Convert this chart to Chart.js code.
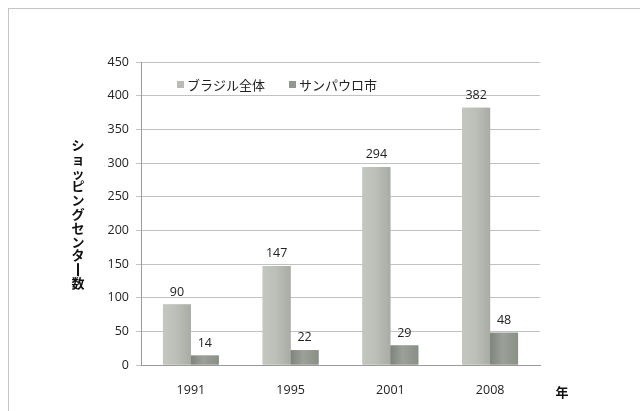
<!DOCTYPE html>
<html>
<head>
<meta charset="utf-8">
<script src="https://cdn.jsdelivr.net/npm/chart.js@4/dist/chart.umd.min.js"></script>
<style>
  html, body { margin: 0; padding: 0; background: #fff; }
  #wrap { position: relative; width: 640px; height: 411px; overflow: hidden; }
  #frame { position: absolute; left: 8px; top: 8px; width: 700px; height: 500px; border: 1px solid #c4c4c4; }
  canvas { position: absolute; left: 0; top: 0; }
</style>
</head>
<body>
<div id="wrap">
  <div id="frame"></div>
  <canvas id="c" width="640" height="411"></canvas>
</div>
<script>
const years = ["1991", "1995", "2001", "2008"];
const brazilTotal = [90, 147, 294, 382];
const saoPaulo = [14, 22, 29, 48];
const seriesNames = ["ブラジル全体", "サンパウロ市"];
const seriesColors = ["#b8bcb5", "#92978f"];
// left / middle / right shades for the soft shading across each bar
const barShades = [
    ["#c3c7c0", "#bcc0b9", "#a8aca5"],
    ["#7f847c", "#9ba098", "#899086"]
];
const yTitle = "ショッピングセンター数";
const xTitle = "年";

const jpFont = "'Noto Sans CJK JP', sans-serif";
const numFont = "'Open Sans', 'Liberation Sans', sans-serif";

// shading + value labels on each bar
const barDecor = {
    id: "barDecor",
    afterDatasetsDraw(chart) {
        const ctx = chart.ctx;
        ctx.save();
        chart.data.datasets.forEach((ds, i) => {
            chart.getDatasetMeta(i).data.forEach(bar => {
                const l = bar.x - bar.width / 2;
                const g = ctx.createLinearGradient(l, 0, l + bar.width, 0);
                g.addColorStop(0, barShades[i][0]);
                g.addColorStop(0.45, barShades[i][1]);
                g.addColorStop(1, barShades[i][2]);
                ctx.fillStyle = g;
                ctx.fillRect(l, bar.y, bar.width, bar.base - bar.y);
            });
        });
        ctx.font = "12.5px " + numFont;
        ctx.fillStyle = "#222";
        ctx.textAlign = "center";
        ctx.textBaseline = "bottom";
        chart.data.datasets.forEach((ds, i) => {
            chart.getDatasetMeta(i).data.forEach((bar, j) => {
                ctx.fillText(ds.data[j], bar.x, bar.y - 6);
            });
        });
        ctx.restore();
    }
};

// legend inside the plot, axis titles drawn by hand (vertical Japanese)
const decorations = {
    id: "decorations",
    afterDraw(chart) {
        const ctx = chart.ctx;
        ctx.save();
        // legend
        ctx.font = "13px " + jpFont;
        ctx.textBaseline = "middle";
        let x = 177;
        const y = 85;
        chart.data.datasets.forEach((ds, i) => {
            ctx.fillStyle = seriesColors[i];
            ctx.fillRect(x, y - 4, 7, 7);
            ctx.fillStyle = "#222";
            ctx.textAlign = "left";
            ctx.fillText(ds.label, x + 10, y);
            x += 10 + ctx.measureText(ds.label).width + 24;
        });
        // y title, one character per line
        ctx.font = "bold 13px " + jpFont;
        ctx.fillStyle = "#111";
        ctx.textAlign = "center";
        const chars = Array.from(yTitle);
        let cy = 145;
        chars.forEach(ch => {
            if (ch === "ー") {
                ctx.fillRect(77, cy - 6, 2, 13);
            } else {
                ctx.fillText(ch, 78, cy);
            }
            cy += 13.8;
        });
        // x title
        ctx.fillText(xTitle, 562, 392);
        ctx.restore();
    }
};

new Chart(document.getElementById("c"), {
    type: "bar",
    data: {
        labels: years,
        datasets: [
            { label: seriesNames[0], data: brazilTotal, backgroundColor: seriesColors[0] },
            { label: seriesNames[1], data: saoPaulo, backgroundColor: seriesColors[1] }
        ]
    },
    options: {
        responsive: false,
        animation: false,
        layout: { padding: { left: 0, top: 62, right: 100, bottom: 0 } },
        datasets: { bar: { categoryPercentage: 0.56, barPercentage: 1 } },
        plugins: { legend: { display: false }, tooltip: { enabled: false } },
        scales: {
            x: {
                grid: { display: false, drawOnChartArea: false, tickLength: 4 },
                border: { color: "#9a9a9a" },
                ticks: { color: "#222", font: { size: 12.5, family: numFont }, padding: 14 },
                afterFit(scale) { scale.height = 46; }
            },
            y: {
                min: 0,
                max: 450,
                ticks: { stepSize: 50, color: "#222", font: { size: 12.5, family: numFont }, padding: 7 },
                grid: { color: "#c2c2c2", tickLength: 5 },
                border: { color: "#9a9a9a" },
                afterFit(scale) { scale.width = 141; }
            }
        }
    },
    plugins: [barDecor, decorations]
});
</script>
</body>
</html>
